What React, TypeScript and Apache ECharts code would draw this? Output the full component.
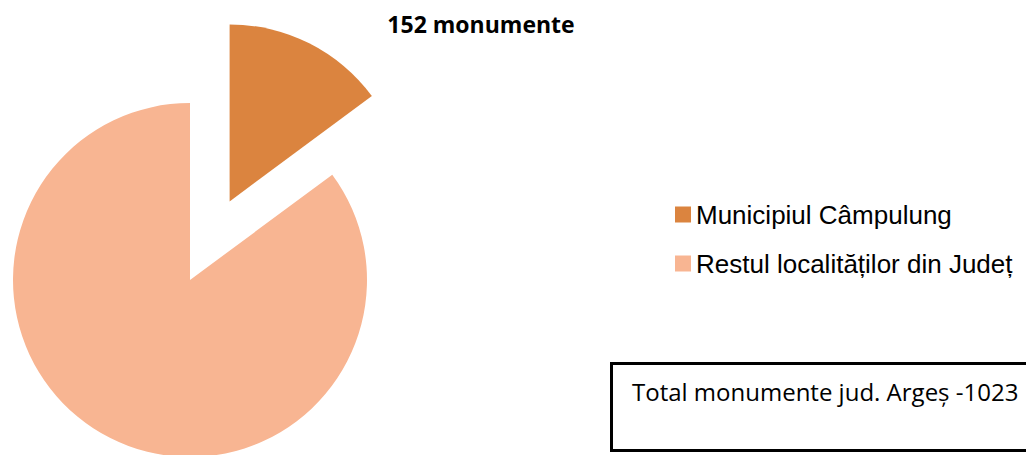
import React, { useEffect, useRef } from "react";
import * as echarts from "echarts";

const categories = ["Municipiul Câmpulung", "Restul localităților din Județ"];
const values = [152, 871];
const colors = ["#DB843F", "#F8B592"];
const labelSuffix = " monumente";
const totalLabel = "Total monumente jud. Argeș -";

export default function App() {
  const ref = useRef<HTMLDivElement>(null);
  useEffect(() => {
    if (!ref.current) return;
    const chart = echarts.init(ref.current, null, { renderer: "svg" });
    const total = values.reduce((a, b) => a + b, 0);
    chart.setOption({
      animation: false,
      legend: {
        orient: "vertical",
        left: 675,
        top: 201,
        padding: 0,
        itemWidth: 16,
        itemHeight: 16,
        itemGap: 22,
        icon: "rect",
        selectedMode: false,
        textStyle: {
          fontFamily: "Liberation Sans, Arial, sans-serif",
          fontSize: 26,
          lineHeight: 27,
          color: "#000",
        },
        data: categories,
      },
      graphic: [
        {
          type: "rect",
          shape: { x: 611.5, y: 363.5, width: 440, height: 87 },
          style: { fill: "#fff", stroke: "#000", lineWidth: 3 },
          z: 1,
        },
        {
          type: "text",
          x: 632,
          y: 391,
          style: {
            text: totalLabel + total,
            font: "24px 'Open Sans', sans-serif",
            fill: "#000",
            verticalAlign: "middle",
          },
          z: 2,
        },
        {
          type: "text",
          x: 481,
          y: 24,
          style: {
            text: values[0] + labelSuffix,
            font: "bold 23px 'Open Sans', sans-serif",
            fill: "#000",
            align: "center",
            verticalAlign: "middle",
          },
          z: 2,
        },
      ],
      series: [
        {
          type: "pie",
          center: [190, 280],
          radius: 177,
          startAngle: 90,
          clockwise: true,
          selectedMode: "single",
          selectedOffset: 88,
          emphasis: { disabled: true },
          label: { show: false },
          labelLine: { show: false },
          data: categories.map((name, i) => ({
            name,
            value: values[i],
            selected: i === 0,
            itemStyle: { color: colors[i] },
            select: { itemStyle: { color: colors[i] } },
          })),
        },
      ],
    });
    return () => chart.dispose();
  }, []);
  return (
    <div
      ref={ref}
      style={{ position: "fixed", left: 0, top: 0, width: 1026, height: 455, background: "#fff" }}
    />
  );
}
